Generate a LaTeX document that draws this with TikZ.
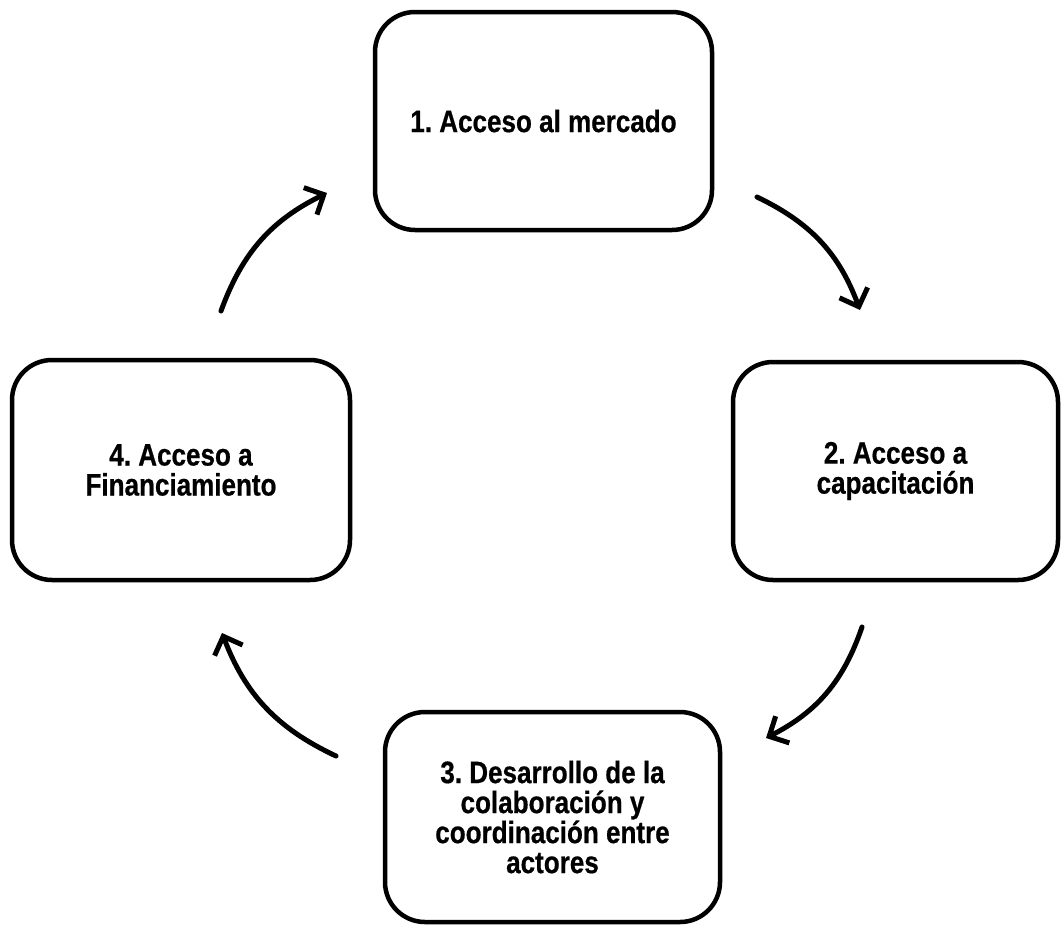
\documentclass[tikz,border=0pt]{standalone}
\usepackage{fontspec}
\setmainfont{Liberation Sans}[FakeStretch=0.84, FakeBold=0.6]
\usetikzlibrary{arrows.meta}
\begin{document}
\frenchspacing
\begin{tikzpicture}[x=1pt,y=-1pt,
  stage/.style={draw=black, line width=4.5pt, rounded corners=40pt,
    fill=white, align=center, inner sep=0pt,
    font=\fontsize{31}{30}\selectfont\bfseries},
  cycle/.style={line width=5pt, line cap=round,
    -{Straight Barb[length=15pt,width=30pt,line width=5pt]}, bend left=22}]
\path[use as bounding box, fill=white] (0,0) rectangle (1064,929);

\node[stage, minimum width=337pt, minimum height=218pt] (s1) at (543.5,121)
  {1. Acceso al mercado};
\node[stage, minimum width=325pt, minimum height=218pt] (s2) at (895.5,471)
  {2. Acceso a\\capacitación};
\node[stage, minimum width=335pt, minimum height=210pt] (s3) at (552.5,817)
  {3. Desarrollo de la\\colaboración y\\coordinación entre\\actores};
\node[stage, minimum width=338pt, minimum height=220pt] (s4) at (181,470)
  {4. Acceso a\\Financiamiento};

% arrow end points between neighbouring stages
\coordinate (a1s) at (757,197);
\coordinate (a1e) at (860,310);
\coordinate (a2s) at (862,627);
\coordinate (a2e) at (766,738);
\coordinate (a3s) at (336,756);
\coordinate (a3e) at (222,633);
\coordinate (a4s) at (221,311);
\coordinate (a4e) at (327,193);

\draw[cycle] (a1s) to (a1e);
\draw[cycle] (a2s) to (a2e);
\draw[cycle] (a3s) to (a3e);
\draw[cycle] (a4s) to (a4e);
\end{tikzpicture}
\end{document}
